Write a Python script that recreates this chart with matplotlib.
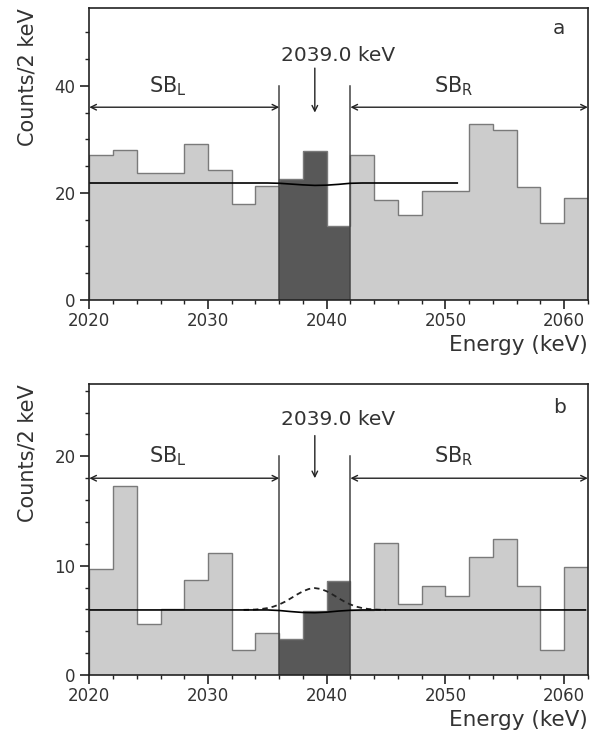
import matplotlib
matplotlib.use('Agg')
import matplotlib.pyplot as plt
import numpy as np
from matplotlib.ticker import MultipleLocator

# Bin edges (2 keV bins) and counts
bin_edges = np.arange(2020, 2063, 2)
counts_a = [27.0, 28.1, 23.7, 23.8, 29.2, 24.3, 18.0, 21.3,
            22.6, 27.9, 13.9,
            27.1, 18.6, 15.8, 20.4, 20.4, 32.8, 31.7, 21.1, 14.3, 19.0]
counts_b = [9.7, 17.3, 4.7, 6.05, 8.65, 11.2, 2.3, 3.85,
            3.3, 5.85, 8.6,
            5.95, 12.1, 6.5, 8.1, 7.2, 10.8, 12.45, 8.1, 2.3, 9.9]

# Fit curves (background + peak)
fit_a_x = [2020, 2035, 2036, 2037, 2038, 2039, 2040, 2041, 2042, 2043, 2051]
fit_a_y = [21.85, 21.85, 21.8, 21.65, 21.5, 21.4, 21.45, 21.6, 21.8, 21.85, 21.85]
fit_b_x = [2020, 2035, 2036, 2037, 2038, 2039, 2040, 2041, 2042, 2043, 2061.8]
fit_b_y = [5.95, 5.95, 5.9, 5.8, 5.72, 5.7, 5.75, 5.85, 5.92, 5.95, 5.95]
peak_b_x = [2033, 2033.5, 2034, 2034.5, 2035, 2035.5, 2036, 2036.5, 2037, 2037.5,
            2038, 2038.5, 2039, 2039.5, 2040, 2040.5, 2041, 2041.5, 2042, 2042.5,
            2043, 2043.5, 2044, 2044.5, 2045]
peak_b_y = [5.96, 5.97, 5.99, 6.04, 6.12, 6.25, 6.45, 6.71, 7.03, 7.36,
            7.66, 7.87, 7.95, 7.87, 7.66, 7.36, 7.03, 6.71, 6.45, 6.25,
            6.12, 6.04, 5.99, 5.97, 5.96]

window = (2036, 2042)
q_value = 2039.0

light = '#cccccc'
dark = '#585858'
txt = '#333333'

fig = plt.figure(figsize=(5.97, 7.39), dpi=100)
ax_a = fig.add_axes([0.1496, 0.594, 0.835, 0.395])
ax_b = fig.add_axes([0.1496, 0.0866, 0.835, 0.3935])


def draw_panel(ax, counts, ymax, major, minor, sb_y, line_top, text_y, arr_top, arr_tip, letter, letter_y):
    counts = np.asarray(counts)
    i0 = list(bin_edges).index(window[0])
    i1 = list(bin_edges).index(window[1])
    ax.stairs(counts[:i0], bin_edges[:i0 + 1], fill=True, color=light, lw=0)
    ax.stairs(counts[i0:i1], bin_edges[i0:i1 + 1], fill=True, color=dark, lw=0)
    ax.stairs(counts[i1:], bin_edges[i1:], fill=True, color=light, lw=0)
    ax.stairs(counts, bin_edges, color='#7a7a7a', lw=1.0)

    # window edges
    for xv in window:
        ax.plot([xv, xv], [0, line_top], color='#444444', lw=1.1)

    # sideband arrows
    ax.annotate('', xy=(2020, sb_y), xytext=(window[0], sb_y),
                arrowprops=dict(arrowstyle='<->', color='#222222', lw=1.0,
                                shrinkA=0, shrinkB=0))
    ax.annotate('', xy=(window[1], sb_y), xytext=(2062, sb_y),
                arrowprops=dict(arrowstyle='<->', color='#222222', lw=1.0,
                                shrinkA=0, shrinkB=0))
    ax.text(2025, line_top, r'SB$_{\rm L}$', fontsize=15, color=txt, va='center', ha='left')
    ax.text(2049, line_top, r'SB$_{\rm R}$', fontsize=15, color=txt, va='center', ha='left')

    # Q-value marker
    ax.text(2041, text_y, f'{q_value:.1f} keV', fontsize=14.5, color=txt, ha='center', va='center')
    ax.annotate('', xy=(q_value, arr_tip), xytext=(q_value, arr_top),
                arrowprops=dict(arrowstyle='->', color='#222222', lw=1.0,
                                shrinkA=0, shrinkB=0))
    ax.text(2059.6, letter_y, letter, fontsize=14.5, color=txt, ha='center', va='center')

    ax.set_xlim(2020, 2062)
    ax.set_ylim(0, ymax)
    ax.xaxis.set_major_locator(MultipleLocator(10))
    ax.xaxis.set_minor_locator(MultipleLocator(2))
    ax.yaxis.set_major_locator(MultipleLocator(major))
    ax.yaxis.set_minor_locator(MultipleLocator(minor))
    ax.tick_params(which='major', length=6.5, width=1.2, color='#222222', labelsize=12, labelcolor=txt)
    ax.tick_params(which='minor', length=3, width=1.0, color='#222222')
    ax.tick_params(axis='x', pad=2)
    for sp in ax.spines.values():
        sp.set_linewidth(1.2)
        sp.set_color('#222222')
    ax.set_ylabel('Counts/2 keV', fontsize=15, color=txt, loc='top', labelpad=12)
    ax.set_xlabel('Energy (keV)', fontsize=15.5, color=txt, loc='right', labelpad=4)


draw_panel(ax_a, counts_a, 54.5, 20, 5, 36, 40, 45.7, 43.3, 35.0, 'a', 50.7)
ax_a.plot(fit_a_x, fit_a_y, color='black', lw=1.2)

draw_panel(ax_b, counts_b, 26.6, 10, 2, 18, 20, 23.4, 21.9, 18.0, 'b', 24.5)
ax_b.plot(peak_b_x, peak_b_y, color='#222222', lw=1.3, ls=(0, (3, 2.2)))
ax_b.plot(fit_b_x, fit_b_y, color='black', lw=1.2)

plt.savefig('out.png', dpi=100)
